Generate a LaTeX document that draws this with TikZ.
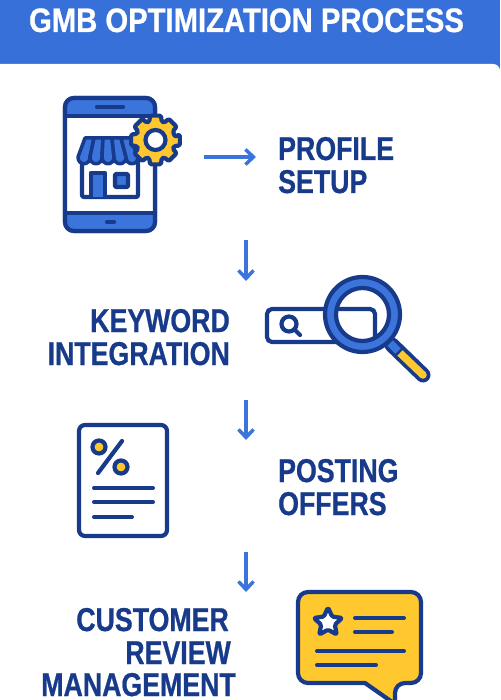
\documentclass[tikz,border=0pt]{standalone}
\usepackage{xcolor}
\usepackage{fontspec}
\usetikzlibrary{arrows.meta, shapes.geometric}
\setmainfont{Liberation Sans}[FakeStretch=0.81, BoldFeatures={FakeBold=0.7}]
\newfontfamily\titlefont{Liberation Sans}[FakeStretch=0.86, BoldFeatures={FakeBold=0.7}]
\definecolor{headblue}{HTML}{3670D8}
\definecolor{iconblue}{HTML}{3B74DB}
\definecolor{navy}{HTML}{173A8A}
\definecolor{gold}{HTML}{FFC82E}
\tikzset{
	title/.style={font=\titlefont\fontsize{34}{34}\selectfont\bfseries, text=white, inner sep=0pt},
	stepleft/.style={font=\fontsize{33}{33}\selectfont\bfseries, text=navy, anchor=base west, inner sep=0pt},
	stepright/.style={font=\fontsize{33}{33}\selectfont\bfseries, text=navy, anchor=base east, inner sep=0pt},
	flow/.style={draw=iconblue, line width=3.5pt, -{Straight Barb[length=8pt, width=15pt, line width=3.5pt]}},
	outline/.style={draw=navy, line width=4.2pt, line join=round, line cap=round, outer sep=0pt},
	textline/.style={draw=navy, line width=4pt, line cap=round}
}
\begin{document}
\begin{tikzpicture}[x=1pt, y=-1pt]
	\useasboundingbox (0,0) rectangle (500,700);
	\clip (0,0) rectangle (500,700);
	\fill[headblue] (0,0) rectangle (500,70);
	\fill[white] (0,64) -- (493,64) .. controls (497,64) and (500,67) .. (500,71) -- (500,700) -- (0,700) -- cycle;
	\node[title, anchor=base] (head) at (246.5,32) {GMB OPTIMIZATION PROCESS};

	% phone with shop and gear
	\node[outline, fill=white, rounded corners=9pt, minimum width=90pt, minimum height=133pt, inner sep=0pt] (phone) at (110,164.5) {};
	\fill[iconblue, rounded corners=8pt] (65,98) rectangle (155,125);
	\fill[iconblue, rounded corners=8pt] (65,205) rectangle (155,231);
	\fill[white] (65,116) rectangle (155,213);
	\draw[outline, rounded corners=9pt] (phone.north west) rectangle (phone.south east);
	\draw[outline] (phone.west |- 0,116) -- (phone.east |- 0,116);
	\draw[outline] (phone.west |- 0,213) -- (phone.east |- 0,213);
	\draw[outline] (97,107) -- (123,107);
	\draw[outline] (107,222) -- (114,222);
	\draw[outline, fill=white, rounded corners=2pt] (82,158) rectangle (138,197);
	\draw[outline, fill=iconblue] (91,197) -- (91,173) -- (105,173) -- (105,197);
	\draw[outline, fill=iconblue, rounded corners=1pt] (115,174) rectangle (128,187);
	\foreach \i in {0,...,4} {
		\draw[outline, line width=3.5pt, fill=iconblue] ({85+9*\i},138) -- ({78+12*\i},157)
			.. controls ({78+12*\i},166) and ({90+12*\i},166) .. ({90+12*\i},157)
			-- ({94+9*\i},138) -- cycle;
	}
	\begin{scope}[shift={(155.5,140)}]
		\draw[outline, fill=gold, rounded corners=1.5pt] (-9:19.5)
			\foreach \a in {0,45,...,315} {
				-- (\a-13:25) -- (\a+13:25) -- (\a+18:19.5)
				-- (\a+27:19.5)
			} -- cycle;
		\node[outline, circle, fill=white, minimum size=20pt, inner sep=0pt] (gearhole) at (0,0) {};
	\end{scope}

	% step labels
	\node[stepleft] (profile) at (278,160) {PROFILE};
	\node[stepleft] (setup) at (278,193) {SETUP};
	\node[stepright] (keyword) at (230,332) {KEYWORD};
	\node[stepright] (integration) at (230,365) {INTEGRATION};
	\node[stepleft] (posting) at (278,482) {POSTING};
	\node[stepleft] (offers) at (278,515) {OFFERS};
	\node[stepright] (customer) at (229,631) {CUSTOMER};
	\node[stepright] (review) at (231,664) {REVIEW};
	\node[stepright] (management) at (236,696) {MANAGEMENT};

	% arrows
	\coordinate (a1s) at (204,157);
	\coordinate (a1e) at (256,157);
	\coordinate (a2s) at (246,240);
	\coordinate (a2e) at (246,281);
	\coordinate (a3s) at (246,400);
	\coordinate (a3e) at (246,440);
	\coordinate (a4s) at (246,552);
	\coordinate (a4e) at (246,592);
	\draw[flow] (a1s) -- (a1e);
	\draw[flow] (a2s) -- (a2e);
	\draw[flow] (a3s) -- (a3e);
	\draw[flow] (a4s) -- (a4e);

	% search bar and magnifier
	\node[outline, fill=white, rounded corners=5pt, minimum width=108pt, minimum height=33pt, inner sep=0pt] (bar) at (321,325.5) {};
	\node[outline, circle, minimum size=15pt, inner sep=0pt] (smallglass) at (289,324) {};
	\draw[outline] (smallglass.south east) -- (300,335);
	\draw[navy, line width=15pt, line cap=round] (392,345) -- (423,375);
	\draw[gold, line width=7.5pt] (400,353) -- (423,375);
	\fill[gold] (423,375) circle[radius=3.75pt];
	\draw[iconblue, line width=7.5pt] (390,343) -- (398,351);
	\node[draw=navy, line width=4.2pt, circle, minimum size=75pt, inner sep=0pt, fill=iconblue] (lens) at (362.5,314.5) {};
	\node[draw=navy, line width=4.2pt, circle, minimum size=53pt, inner sep=0pt, fill=white] (lensglass) at (362.5,314.5) {};
	\begin{scope}
		\clip (lensglass.center) circle[radius=25pt];
		\draw[outline, rounded corners=5pt] (bar.north west) rectangle (bar.south east);
	\end{scope}

	% offer sheet
	\node[outline, fill=white, rounded corners=6pt, minimum width=88pt, minimum height=111pt, inner sep=0pt] (sheet) at (123,480.5) {};
	\draw[outline] (122,441) -- (98,473);
	\node[outline, circle, fill=gold, minimum size=13pt, inner sep=0pt] (pctop) at (99,447) {};
	\node[outline, circle, fill=gold, minimum size=13pt, inner sep=0pt] (pcbottom) at (121,467) {};
	\draw[textline] (94,488) -- (153,488);
	\draw[textline] (94,502) -- (153,502);
	\draw[textline] (94,517) -- (132,517);

	% review bubble
	\draw[outline, fill=gold, rounded corners=10pt] (298,592) -- (421,592) -- (421,683) -- (395,683) [sharp corners] -- (395,704) -- (365,683) [rounded corners=10pt] -- (298,683) -- cycle;
	\node[outline, star, star points=5, star point ratio=2.1, fill=white, rounded corners=1.5pt, minimum size=30pt, inner sep=0pt] (starmark) at (328,622.5) {};
	\draw[textline] (355,618) -- (404,618);
	\draw[textline] (355,632) -- (392,632);
	\draw[textline] (317,651) -- (404,651);
	\draw[textline] (317,665) -- (376,665);
\end{tikzpicture}
\end{document}
